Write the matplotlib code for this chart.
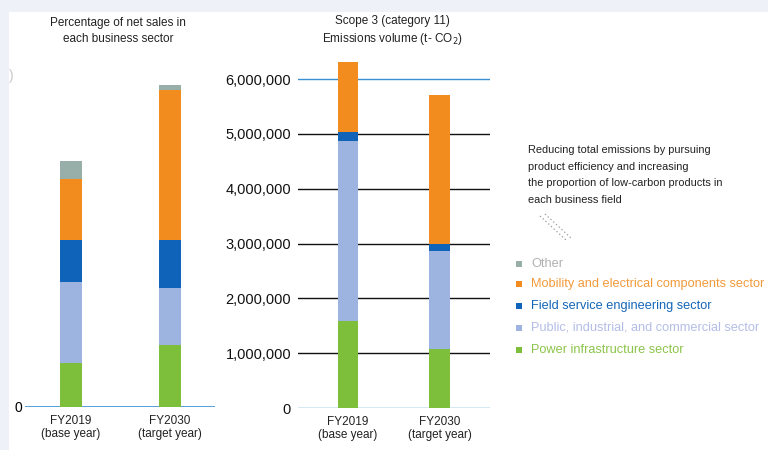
import numpy as np
import matplotlib
matplotlib.use("Agg")
import matplotlib.pyplot as plt
from matplotlib.patches import Rectangle

plt.rcParams["font.family"] = ["Liberation Sans Narrow", "Liberation Sans", "DejaVu Sans"]

# ---------------------------------------------------------------
# Data
# ---------------------------------------------------------------
years = ["FY2019\n(base year)", "FY2030\n(target year)"]
sectors = ["Power infrastructure sector",
           "Public, industrial, and commercial sector",
           "Field service engineering sector",
           "Mobility and electrical components sector",
           "Other"]

# share of net sales, relative units (no scale on the original axis)
sales_power = [44, 62]
sales_public = [81, 57]
sales_field = [42, 48]
sales_mobility = [61, 150]
sales_other = [18, 5]

# Scope 3 (category 11) emissions, t-CO2
emis_power = [1590000, 1080000]
emis_public = [3280000, 1790000]
emis_field = [170000, 120000]
emis_mobility = [1270000, 2720000]
emis_other = [0, 0]

emis_ticks = [0, 1000000, 2000000, 3000000, 4000000, 5000000, 6000000]

colors = ["#7dbf3a", "#9db4e0", "#0f63b8", "#f28c1e", "#98aea8"]
legend_text_colors = ["#8cc44a", "#b4bde6", "#1466b8", "#f29a3a", "#b0b0b0"]

W, H = 768, 450
fig = plt.figure(figsize=(W / 100, H / 100), dpi=100, facecolor="#eef1f7")
fig.patches.append(Rectangle((9 / W, 0), 1, 1 - 12 / H, transform=fig.transFigure,
                             facecolor="white", edgecolor="none", zorder=-10))


def ax_at(x0, x1, y_bottom, y_top):
    return fig.add_axes([x0 / W, 1 - y_bottom / H, (x1 - x0) / W, (y_bottom - y_top) / H])


def stack(ax, series, width):
    x = np.arange(len(years))
    bottom = np.zeros(len(years))
    for vals, c in zip(series, colors):
        vals = np.array(vals, dtype=float)
        ax.bar(x, vals, width, bottom=bottom, color=c, edgecolor="none", zorder=3)
        bottom += vals


def clean(ax):
    ax.set_facecolor("none")
    for s in ax.spines.values():
        s.set_visible(False)
    ax.tick_params(length=0)


# ---------------------------------------------------------------
# Left panel: net sales share
# ---------------------------------------------------------------
ax1 = ax_at(25, 215, 407, 70)
clean(ax1)
stack(ax1, [sales_power, sales_public, sales_field, sales_mobility, sales_other], 0.22)
ax1.set_xlim(-0.465, 1.455)
ax1.set_ylim(0, 337)
ax1.axhline(0, color="#3b8fd4", lw=1.2, zorder=2)
ax1.set_yticks([0])
ax1.set_yticklabels(["0"], fontsize=10)
ax1.tick_params(axis="y", pad=2)
ax1.set_xticks([0, 1])
ax1.set_xticklabels(years, fontsize=8.5, color="#222222", linespacing=1.1)
ax1.tick_params(axis="x", pad=6)
fig.text(118 / W, 1 - 31 / H, "Percentage of net sales in\neach business sector",
         ha="center", va="center", fontsize=8.5, color="#222222", linespacing=1.35)
fig.text(9 / W, 1 - 76 / H, ")", ha="left", va="center", fontsize=10, color="#c8c8c8")

# ---------------------------------------------------------------
# Right panel: emissions volume
# ---------------------------------------------------------------
ax2 = ax_at(298, 490, 408, 60)
clean(ax2)
stack(ax2, [emis_power, emis_public, emis_field, emis_mobility, emis_other], 0.22)
ax2.set_xlim(-0.546, 1.552)
ax2.set_ylim(0, 6350000)
for t in emis_ticks:
    c = "#3b8fd4" if t in (0, 6000000) else "#111111"
    ax2.axhline(t, color=c, lw=1.0, zorder=2)
ax2.set_yticks(emis_ticks)
ax2.set_yticklabels([f"{t:,}" for t in emis_ticks], fontsize=10.5, color="#111111")
ax2.tick_params(axis="y", pad=5)
ax2.set_xticks([0, 1])
ax2.set_xticklabels(years, fontsize=8.5, color="#222222", linespacing=1.1)
ax2.tick_params(axis="x", pad=6)
fig.text(392 / W, 1 - 31 / H, "Scope 3 (category 11)\nEmissions volume (t- CO$_2$)",
         ha="center", va="center", fontsize=8.5, color="#222222", linespacing=1.35)

# ---------------------------------------------------------------
# Note and legend
# ---------------------------------------------------------------
fig.text(528 / W, 1 - 175 / H,
         "Reducing total emissions by pursuing\nproduct efficiency and increasing\n"
         "the proportion of low-carbon products in\neach business field",
         ha="left", va="center", fontsize=7.9, color="#222222", linespacing=1.8)
for dx in (0, 5):
    fig.lines.append(plt.Line2D([(540 + dx) / W, (566 + dx) / W],
                                [1 - (216 - dx * 0.4) / H, 1 - (240 - dx * 0.4) / H],
                                transform=fig.transFigure, color="#999999",
                                lw=0.9, ls=(0, (1, 2))))

legend_y = [350, 328, 306, 284, 264]
for name, c, tc, y in zip(sectors, colors, legend_text_colors, legend_y):
    fig.patches.append(Rectangle((516 / W, 1 - (y + 3) / H), 6 / W, 6 / H,
                                 transform=fig.transFigure, facecolor=c, edgecolor="none"))
    fig.text(531 / W, 1 - y / H, name, ha="left", va="center", fontsize=9.2, color=tc)

fig.savefig("out.png", dpi=100, facecolor=fig.get_facecolor())
